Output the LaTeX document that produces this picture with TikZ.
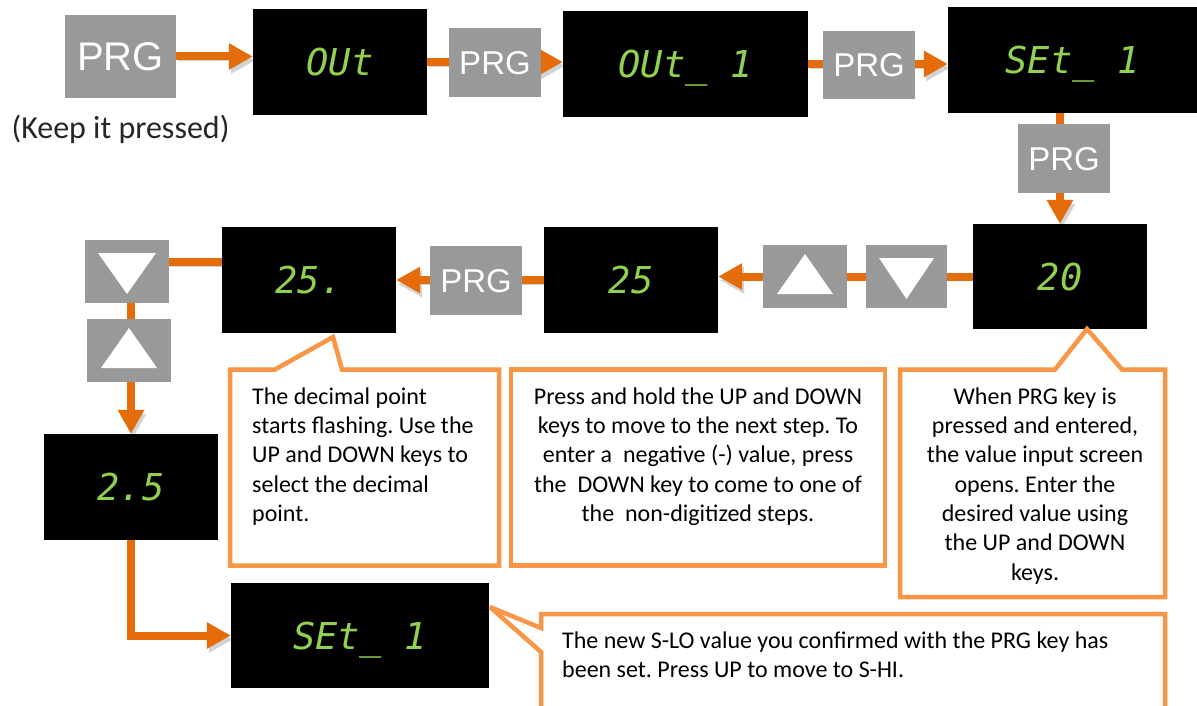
\documentclass[tikz,border=0pt]{standalone}
\usepackage{fontspec}
\setmainfont{Carlito}
\newfontfamily\keyfont{Liberation Sans}
\newfontfamily\segfont{DejaVu Sans Mono}
\usetikzlibrary{arrows.meta,backgrounds}
\definecolor{keyg}{HTML}{999999}
\definecolor{arro}{HTML}{E46C0A}
\definecolor{callo}{HTML}{F79646}
\definecolor{segg}{HTML}{92D050}
\definecolor{shad}{HTML}{D3D3D3}
\frenchspacing
\begin{document}
\begin{tikzpicture}[x=1pt,y=1pt,
  disp/.style={fill=black, inner sep=0pt, text=segg, font=\segfont\itshape\fontsize{37}{40}\selectfont, text height=27pt, text depth=0pt},
  key/.style={fill=keyg, inner sep=0pt, text=white, font=\keyfont\fontsize{33}{36}\selectfont, text height=23.6pt, text depth=0pt},
  arr/.style={draw=arro, line width=8pt, -{Triangle[length=24pt,width=25pt]},
    preaction={draw=shad, transform canvas={shift={(2pt,-4pt)}}}},
  callout/.style={draw=callo, fill=white, line width=4.5pt, line join=miter, miter limit=4},
  ctext/.style={inner sep=0pt, font=\frenchspacing\fontsize{24}{29.3}\selectfont, text=black}
]
\useasboundingbox (0,0) rectangle (1197,-706);

% top row
\node[key, minimum width=111, minimum height=83, font=\keyfont\fontsize{40}{44}\selectfont, text height=28.6pt] (prg1) at (120.5,-56.5) {PRG};
\node[inner sep=0pt, anchor=base, font=\fontsize{32}{38}\selectfont, text=black!85] (keep) at (120.5,-139) {(Keep it pressed)};
\node[disp, minimum width=174, minimum height=106] (out) at (340,-62) {OUt};
\node[key, minimum width=92, minimum height=69] (prg2) at (495,-62.5) {PRG};
\node[disp, minimum width=245, minimum height=106] (out1) at (685.5,-64) {OUt\_ 1};
\node[key, minimum width=92, minimum height=68] (prg3) at (869,-65) {PRG};
\node[disp, minimum width=249, minimum height=106] (set1) at (1072.5,-60) {SEt\_ 1};
\node[key, minimum width=92, minimum height=69] (prg4) at (1064,-158.5) {PRG};

% middle row
\node[disp, minimum width=174, minimum height=105] (d20) at (1060,-276.5) {20};
\node[key, minimum width=81, minimum height=63] (kdn) at (906.5,-276.5) {};
\node[key, minimum width=84, minimum height=63] (kup) at (805,-276.5) {};
\node[disp, minimum width=174, minimum height=106] (d25) at (631,-280) {25};
\node[key, minimum width=92, minimum height=69] (prg5) at (476,-280.5) {PRG};
\node[disp, minimum width=174, minimum height=106] (d25p) at (309,-280) {25.};
\node[key, minimum width=84, minimum height=63] (kdnb) at (127,-271.5) {};
\node[key, minimum width=84, minimum height=63] (kupb) at (129,-350.5) {};

% bottom
\node[disp, minimum width=174, minimum height=106] (d2p5) at (131,-487) {2.5};
\node[disp, minimum width=258, minimum height=105] (set1b) at (360,-635.5) {SEt\_ 1};

% key triangles
\fill[white, shift={(kdn.center)}] (-27.5,18.5) -- (27.5,18.5) -- (0,-22.5) -- cycle;
\fill[white, shift={(kdnb.center)}] (-29,18.5) -- (29,18.5) -- (0,-22.5) -- cycle;
\fill[white, shift={(kup.center)}] (-28,-17.5) -- (28,-17.5) -- (0,22.5) -- cycle;
\fill[white, shift={(kupb.center)}] (-28,-17.5) -- (28,-17.5) -- (0,22.5) -- cycle;

% callouts
\coordinate (tip1) at (333,-337);
\coordinate (tip3) at (1087,-329);
\coordinate (tip4) at (490,-607);
\draw[callout] (230,-565.5) -- (230,-369.5) -- (275,-369.5) -- (tip1) -- (342,-369.5) -- (499,-369.5) -- (499,-565.5) -- cycle;
\draw[callout] (511,-565.5) rectangle (885,-369.5);
\draw[callout] (900,-597) -- (900,-369.5) -- (1055,-369.5) -- (tip3) -- (1122,-369.5) -- (1165,-369.5) -- (1165,-597) -- cycle;
\draw[callout] (541,-730) -- (541,-652) -- (tip4) -- (541,-628) -- (541,-614) -- (1165,-614) -- (1165,-730);

\node[ctext, anchor=north west, align=left] (t1) at (252,-384) {\rule{0pt}{20pt}The decimal point\\starts flashing. Use the\\UP and DOWN keys to\\select the decimal\\point.};
\node[ctext, anchor=north, align=center] (t2) at (698,-384) {\rule{0pt}{20pt}Press and hold the UP and DOWN\\keys to move to the next step. To\\enter a\ \ negative (-) value, press\\the\ \ DOWN key to come to one of\\the\ \ non-digitized steps.};
\node[ctext, anchor=north, align=center] (t3) at (1035,-384) {\rule{0pt}{20pt}When PRG key is\\pressed and entered,\\the value input screen\\opens. Enter the\\desired value using\\the UP and DOWN\\keys.};
\node[ctext, anchor=north west, align=left] (t4) at (562,-628) {\rule{0pt}{20pt}The new S-LO value you confirmed with the PRG key has\\been set. Press UP to move to S-HI.};

% connectors
\begin{scope}[on background layer]
\fill[white] (0,0) rectangle (1197,-706);
\draw[arr] (prg1.east) -- (prg1.east -| out.west);
\draw[arr] (out.east) -- (out.east -| out1.west);
\draw[arr] (out1.east) -- (out1.east -| set1.west);
\draw[arr] (set1.south -| d20.north) -- (d20.north);
\draw[arr] (d20.west) -- (d20.west -| d25.east);
\draw[arr] (d25.west) -- (d25.west -| d25p.east);
\draw[arr] ([yshift=18pt]d25p.west) -| (d2p5.north);
\draw[arr] (d2p5.south) |- (set1b.west);
\end{scope}
\end{tikzpicture}
\end{document}
